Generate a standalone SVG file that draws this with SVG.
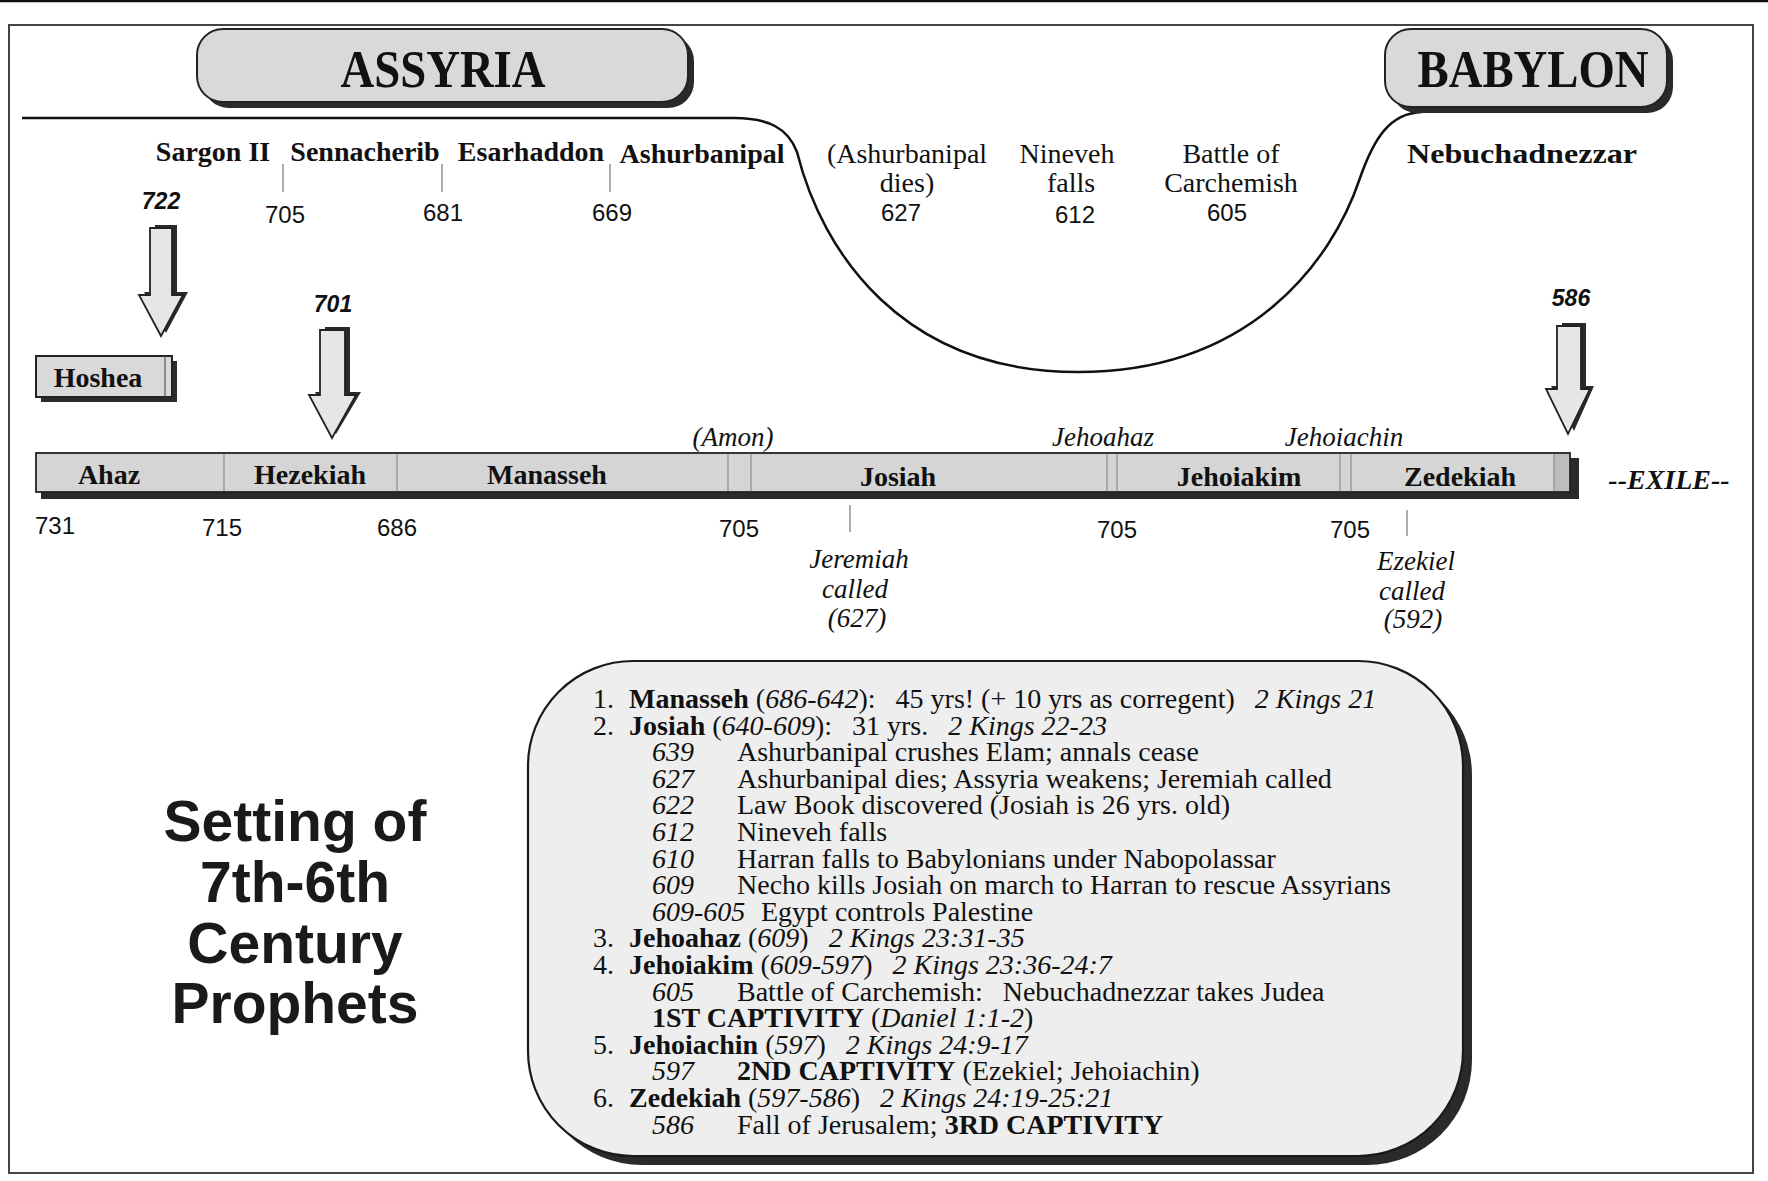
<svg xmlns="http://www.w3.org/2000/svg" width="1768" height="1181" viewBox="0 0 1768 1181">
<style>
.serif{font-family:"Liberation Serif","Times New Roman",serif;fill:#111}
.sans{font-family:"Liberation Sans",Arial,sans-serif;fill:#111}
.b{font-weight:bold}
.i{font-style:italic}
.c{text-anchor:middle}
.hdr{font-family:"Liberation Serif",serif;font-weight:bold;font-size:52px;fill:#111;text-anchor:middle}
.lbl{font-family:"Liberation Serif",serif;font-weight:bold;font-size:28px;fill:#111}
.ev{font-family:"Liberation Serif",serif;font-size:28px;fill:#111;text-anchor:middle}
.yr{font-family:"Liberation Sans",Arial,sans-serif;font-size:24px;fill:#111;text-anchor:middle}
.byr{font-family:"Liberation Sans",Arial,sans-serif;font-size:23px;font-weight:bold;font-style:italic;fill:#111;text-anchor:middle}
.it{font-family:"Liberation Serif",serif;font-style:italic;font-size:27px;fill:#111;text-anchor:middle}
.tick{stroke:#777;stroke-width:1.2}
.shadow{fill:#2a2a2a}
.box{fill:#d9d9d9;stroke:#222;stroke-width:2}
.arrow{fill:#e6e6e6;stroke:#222;stroke-width:1.8}
.info{font-family:"Liberation Serif",serif;font-size:28px;fill:#111}
.bd{font-weight:bold}
.em{font-style:italic}
.title{font-family:"Liberation Sans",Arial,sans-serif;font-weight:bold;font-size:57px;fill:#1a1a1a;text-anchor:middle}
</style>
<rect x="0" y="0" width="1768" height="1181" fill="#ffffff"/>
<line x1="0" y1="1" x2="1768" y2="1" stroke="#111" stroke-width="2.5"/>
<rect x="9" y="25" width="1744" height="1148" fill="none" stroke="#444" stroke-width="2"/>

<g id="connectors">
  <path d="M22,118 L734,118 C768,118 788,128 797,152 C822,252 902,372 1078,372 C1250,372 1332,262 1360,178 C1374,138 1390,113 1422,112" fill="none" stroke="#111" stroke-width="2.5"/>
  <g id="tick-lines">
    <line class="tick" x1="283" y1="164" x2="283" y2="192"/>
    <line class="tick" x1="442" y1="164" x2="442" y2="192"/>
    <line class="tick" x1="610" y1="164" x2="610" y2="192"/>
    <line class="tick" x1="850" y1="505" x2="850" y2="532"/>
    <line class="tick" x1="1407" y1="510" x2="1407" y2="536"/>
  </g>
  <g id="arrow-722">
    <path class="shadow" d="M155,225 H177 V292 H188 L166,333 L144,292 H155 Z"/>
    <path class="arrow" d="M150,228 H172 V295 H183 L161,336 L139,295 H150 Z"/>
  </g>
  <g id="arrow-701">
    <path class="shadow" d="M325,327 H350 V392 H361 L336,434 L315,392 H325 Z"/>
    <path class="arrow" d="M320,330 H345 V395 H356 L332,438 L309,395 H320 Z"/>
  </g>
  <g id="arrow-586">
    <path class="shadow" d="M1562,323 H1586 V386 H1594 L1574,431 L1551,386 H1562 Z"/>
    <path class="arrow" d="M1557,326 H1581 V389 H1590 L1568,434 L1546,389 H1557 Z"/>
  </g>
</g>

<g id="assyria">
  <rect x="203" y="35" width="491" height="73" rx="26" class="shadow"/>
  <rect x="197" y="29" width="491" height="73" rx="26" class="box"/>
  <text x="443" y="87" class="hdr" textLength="205" lengthAdjust="spacingAndGlyphs">ASSYRIA</text>
</g>

<g id="babylon">
  <rect x="1391" y="35" width="282" height="78" rx="26" class="shadow"/>
  <rect x="1385" y="29" width="282" height="78" rx="26" class="box"/>
  <text x="1533" y="87" class="hdr" textLength="231" lengthAdjust="spacingAndGlyphs">BABYLON</text>
</g>

<g id="kings-assyria">
  <text x="213" y="161" class="lbl" text-anchor="middle">Sargon II</text>
  <text x="365" y="161" class="lbl" text-anchor="middle">Sennacherib</text>
  <text x="531" y="161" class="lbl" text-anchor="middle">Esarhaddon</text>
  <text x="702" y="163" class="lbl" text-anchor="middle">Ashurbanipal</text>
  <text x="1522" y="163" class="lbl" text-anchor="middle" textLength="230" lengthAdjust="spacingAndGlyphs">Nebuchadnezzar</text>
  <text x="285" y="223" class="yr">705</text>
  <text x="443" y="221" class="yr">681</text>
  <text x="612" y="221" class="yr">669</text>
</g>

<g id="events-fall">
  <text x="907" y="163" class="ev">(Ashurbanipal</text>
  <text x="907" y="192" class="ev">dies)</text>
  <text x="901" y="221" class="yr">627</text>
  <text x="1067" y="163" class="ev">Nineveh</text>
  <text x="1071" y="192" class="ev">falls</text>
  <text x="1075" y="223" class="yr">612</text>
  <text x="1231" y="163" class="ev">Battle of</text>
  <text x="1231" y="192" class="ev">Carchemish</text>
  <text x="1227" y="221" class="yr">605</text>
</g>

<g id="year-markers">
  <text x="161" y="209" class="byr">722</text>
  <text x="333" y="312" class="byr">701</text>
  <text x="1571" y="306" class="byr">586</text>
</g>

<g id="hoshea">
  <rect x="41" y="361" width="136" height="41" class="shadow"/>
  <rect x="36" y="356" width="136" height="41" class="box" stroke-width="1.5"/>
  <line x1="165" y1="356" x2="165" y2="397" stroke="#555" stroke-width="1.2"/>
  <text x="98" y="387" class="lbl" text-anchor="middle">Hoshea</text>
</g>

<g id="timeline">
  <rect x="41" y="458" width="1538" height="41" class="shadow"/>
  <rect x="36" y="453" width="1534" height="39" fill="#d5d5d5" stroke="#222" stroke-width="1.8"/>
  <rect x="1554" y="454" width="15" height="37" fill="#bdbdbd"/>
  <g stroke="#888" stroke-width="1.1">
    <line x1="224" y1="454" x2="224" y2="491"/>
    <line x1="397" y1="454" x2="397" y2="491"/>
    <line x1="728" y1="454" x2="728" y2="491"/>
    <line x1="751" y1="454" x2="751" y2="491"/>
    <line x1="1107" y1="454" x2="1107" y2="491"/>
    <line x1="1117" y1="454" x2="1117" y2="491"/>
    <line x1="1340" y1="454" x2="1340" y2="491"/>
    <line x1="1351" y1="454" x2="1351" y2="491"/>
    <line x1="1554" y1="454" x2="1554" y2="491"/>
  </g>
  <text x="109" y="484" class="lbl" text-anchor="middle">Ahaz</text>
  <text x="310" y="484" class="lbl" text-anchor="middle">Hezekiah</text>
  <text x="547" y="484" class="lbl" text-anchor="middle">Manasseh</text>
  <text x="898" y="486" class="lbl" text-anchor="middle">Josiah</text>
  <text x="1239" y="486" class="lbl" text-anchor="middle">Jehoiakim</text>
  <text x="1460" y="486" class="lbl" text-anchor="middle">Zedekiah</text>
  <text x="733" y="446" class="it">(Amon)</text>
  <text x="1103" y="446" class="it">Jehoahaz</text>
  <text x="1344" y="446" class="it">Jehoiachin</text>
  <text x="1669" y="489" class="serif b i c" font-size="28">--EXILE--</text>
  <text x="55" y="534" class="yr">731</text>
  <text x="222" y="536" class="yr">715</text>
  <text x="397" y="536" class="yr">686</text>
  <text x="739" y="537" class="yr">705</text>
  <text x="1117" y="538" class="yr">705</text>
  <text x="1350" y="538" class="yr">705</text>
</g>

<g id="prophets-called">
  <text x="859" y="568" class="it" font-size="28">Jeremiah</text>
  <text x="855" y="598" class="it" font-size="28">called</text>
  <text x="857" y="627" class="it" font-size="28">(627)</text>
  <text x="1416" y="570" class="it" font-size="28">Ezekiel</text>
  <text x="1412" y="600" class="it" font-size="28">called</text>
  <text x="1413" y="628" class="it" font-size="28">(592)</text>
</g>

<g id="title">
  <text x="295" y="841" class="title">Setting of</text>
  <text x="295" y="902" class="title">7th-6th</text>
  <text x="295" y="963" class="title">Century</text>
  <text x="295" y="1023" class="title">Prophets</text>
</g>

<g id="kings-of-judah">
  <rect x="537" y="670" width="935" height="495" rx="105" class="shadow"/>
  <rect x="528" y="661" width="935" height="495" rx="105" fill="#eeeeee" stroke="#1a1a1a" stroke-width="2.2"/>
  <g class="info">
    <text x="593" y="708">1.<tspan x="629" class="bd">Manasseh</tspan> (<tspan class="em">686-642</tspan>):<tspan dx="20">45 yrs! (+ 10 yrs as corregent)</tspan><tspan dx="20" class="em">2 Kings 21</tspan></text>
    <text x="593" y="734.6">2.<tspan x="629" class="bd">Josiah</tspan> (<tspan class="em">640-609</tspan>):<tspan dx="20">31 yrs.</tspan><tspan dx="20" class="em">2 Kings 22-23</tspan></text>
    <text x="652" y="761.2" class="em">639</text><text x="737" y="761.2">Ashurbanipal crushes Elam; annals cease</text>
    <text x="652" y="787.8" class="em">627</text><text x="737" y="787.8">Ashurbanipal dies; Assyria weakens; Jeremiah called</text>
    <text x="652" y="814.4" class="em">622</text><text x="737" y="814.4">Law Book discovered (Josiah is 26 yrs. old)</text>
    <text x="652" y="841" class="em">612</text><text x="737" y="841">Nineveh falls</text>
    <text x="652" y="867.6" class="em">610</text><text x="737" y="867.6">Harran falls to Babylonians under Nabopolassar</text>
    <text x="652" y="894.2" class="em">609</text><text x="737" y="894.2">Necho kills Josiah on march to Harran to rescue Assyrians</text>
    <text x="652" y="920.8" class="em">609-605</text><text x="761" y="920.8">Egypt controls Palestine</text>
    <text x="593" y="947.4">3.<tspan x="629" class="bd">Jehoahaz</tspan> (<tspan class="em">609</tspan>)<tspan dx="20" class="em">2 Kings 23:31-35</tspan></text>
    <text x="593" y="974">4.<tspan x="629" class="bd">Jehoiakim</tspan> (<tspan class="em">609-597</tspan>)<tspan dx="20" class="em">2 Kings 23:36-24:7</tspan></text>
    <text x="652" y="1000.6" class="em">605</text><text x="737" y="1000.6">Battle of Carchemish:<tspan dx="20">Nebuchadnezzar takes Judea</tspan></text>
    <text x="652" y="1027.2"><tspan class="bd">1ST CAPTIVITY</tspan> (<tspan class="em">Daniel 1:1-2</tspan>)</text>
    <text x="593" y="1053.8">5.<tspan x="629" class="bd">Jehoiachin</tspan> (<tspan class="em">597</tspan>)<tspan dx="20" class="em">2 Kings 24:9-17</tspan></text>
    <text x="652" y="1080.4" class="em">597</text><text x="737" y="1080.4"><tspan class="bd">2ND CAPTIVITY</tspan> (Ezekiel; Jehoiachin)</text>
    <text x="593" y="1107">6.<tspan x="629" class="bd">Zedekiah</tspan> (<tspan class="em">597-586</tspan>)<tspan dx="20" class="em">2 Kings 24:19-25:21</tspan></text>
    <text x="652" y="1133.6" class="em">586</text><text x="737" y="1133.6">Fall of Jerusalem; <tspan class="bd">3RD CAPTIVITY</tspan></text>
  </g>
</g>
</svg>
